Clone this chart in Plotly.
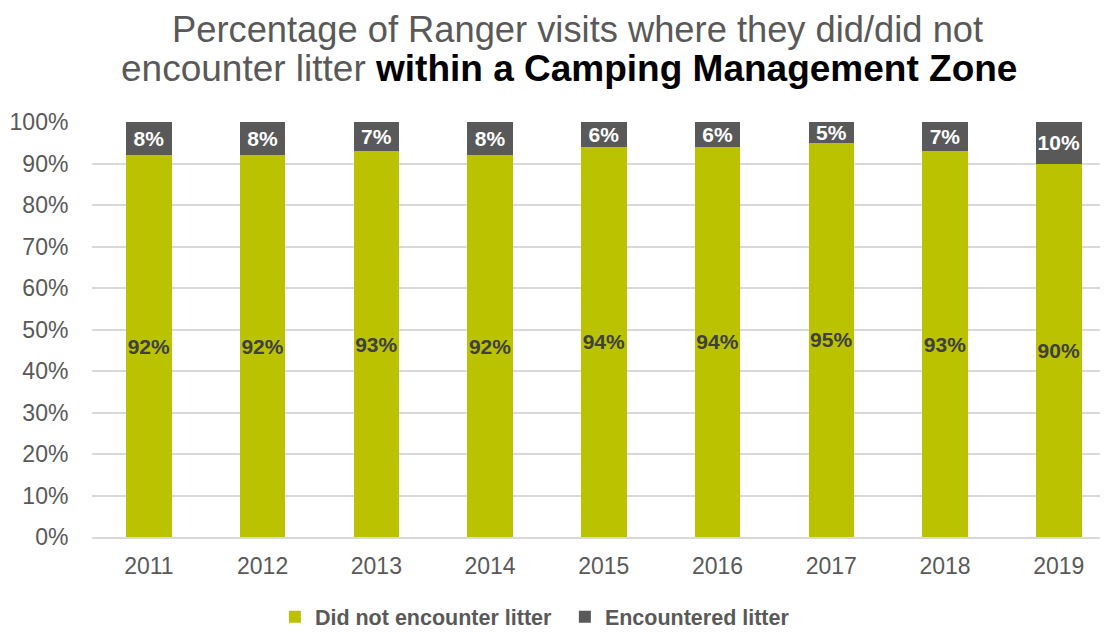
import plotly.graph_objects as go

years = ["2011", "2012", "2013", "2014", "2015", "2016", "2017", "2018", "2019"]
did_not = [92, 92, 93, 92, 94, 94, 95, 93, 90]
encountered = [8, 8, 7, 8, 6, 6, 5, 7, 10]
ytick_vals = [0, 10, 20, 30, 40, 50, 60, 70, 80, 90, 100]
ytick_text = [f"{v}%" for v in ytick_vals]

title_line1 = "Percentage of Ranger visits where they did/did not"
title_line2 = "encounter litter <b><span style='color:black'>within a Camping Management Zone</span></b>"

GREEN = "#BBC300"
GREY = "#595959"
FONT = "Liberation Sans, Arial, sans-serif"

fig = go.Figure()
fig.add_trace(go.Bar(
    x=years, y=did_not, name="Did not encounter litter",
    marker=dict(color=GREEN, line=dict(width=0)),
    text=[f"{v}%" for v in did_not], textposition="inside",
    insidetextanchor="middle", textangle=0,
    textfont=dict(family=FONT, size=21, color="#404040", weight="bold"),
))
fig.add_trace(go.Bar(
    x=years, y=encountered, name="Encountered litter",
    marker=dict(color=GREY, line=dict(width=0)),
    text=[f"{v}%" for v in encountered], textposition="inside",
    insidetextanchor="middle", textangle=0,
    textfont=dict(family=FONT, size=21, color="white", weight="bold"),
))

fig.add_annotation(text=title_line1, xref="paper", yref="paper", x=0.4774, y=1.224,
                   xanchor="center", yanchor="middle", showarrow=False,
                   font=dict(family=FONT, size=36.3, color=GREY))
fig.add_annotation(text=title_line2, xref="paper", yref="paper", x=0.4693, y=1.130,
                   xanchor="center", yanchor="middle", showarrow=False,
                   font=dict(family=FONT, size=37, color=GREY))

fig.update_layout(
    width=1100, height=624,
    barmode="stack", bargap=0.6,
    paper_bgcolor="white", plot_bgcolor="white",
    margin=dict(l=84.35, r=0, t=114, b=94.7, autoexpand=False),
    font=dict(family=FONT, color=GREY),
    uniformtext=dict(minsize=21, mode="show"),
    xaxis=dict(
        range=[-0.5, 8.433], showgrid=False, showline=True, linecolor="#D9D9D9", linewidth=1.5,
        tickfont=dict(family=FONT, size=23, color=GREY), ticks="outside", ticklen=8,
        tickcolor="rgba(0,0,0,0)", tickangle=0, automargin=False,
    ),
    yaxis=dict(
        range=[0, 100], tickvals=ytick_vals, ticktext=ytick_text,
        showgrid=True, gridcolor="#D9D9D9", gridwidth=1.5, zeroline=False,
        tickfont=dict(family=FONT, size=23, color=GREY), ticks="outside", ticklen=18,
        tickcolor="rgba(0,0,0,0)", automargin=False,
    ),
    legend=dict(
        orientation="h", x=0.18, xanchor="left", y=-0.192, yanchor="middle",
        font=dict(family=FONT, size=21.5, color=GREY, weight="bold"),
        traceorder="normal", itemwidth=30, entrywidth=245, entrywidthmode="pixels",
    ),
)

fig.write_html("out.html")
